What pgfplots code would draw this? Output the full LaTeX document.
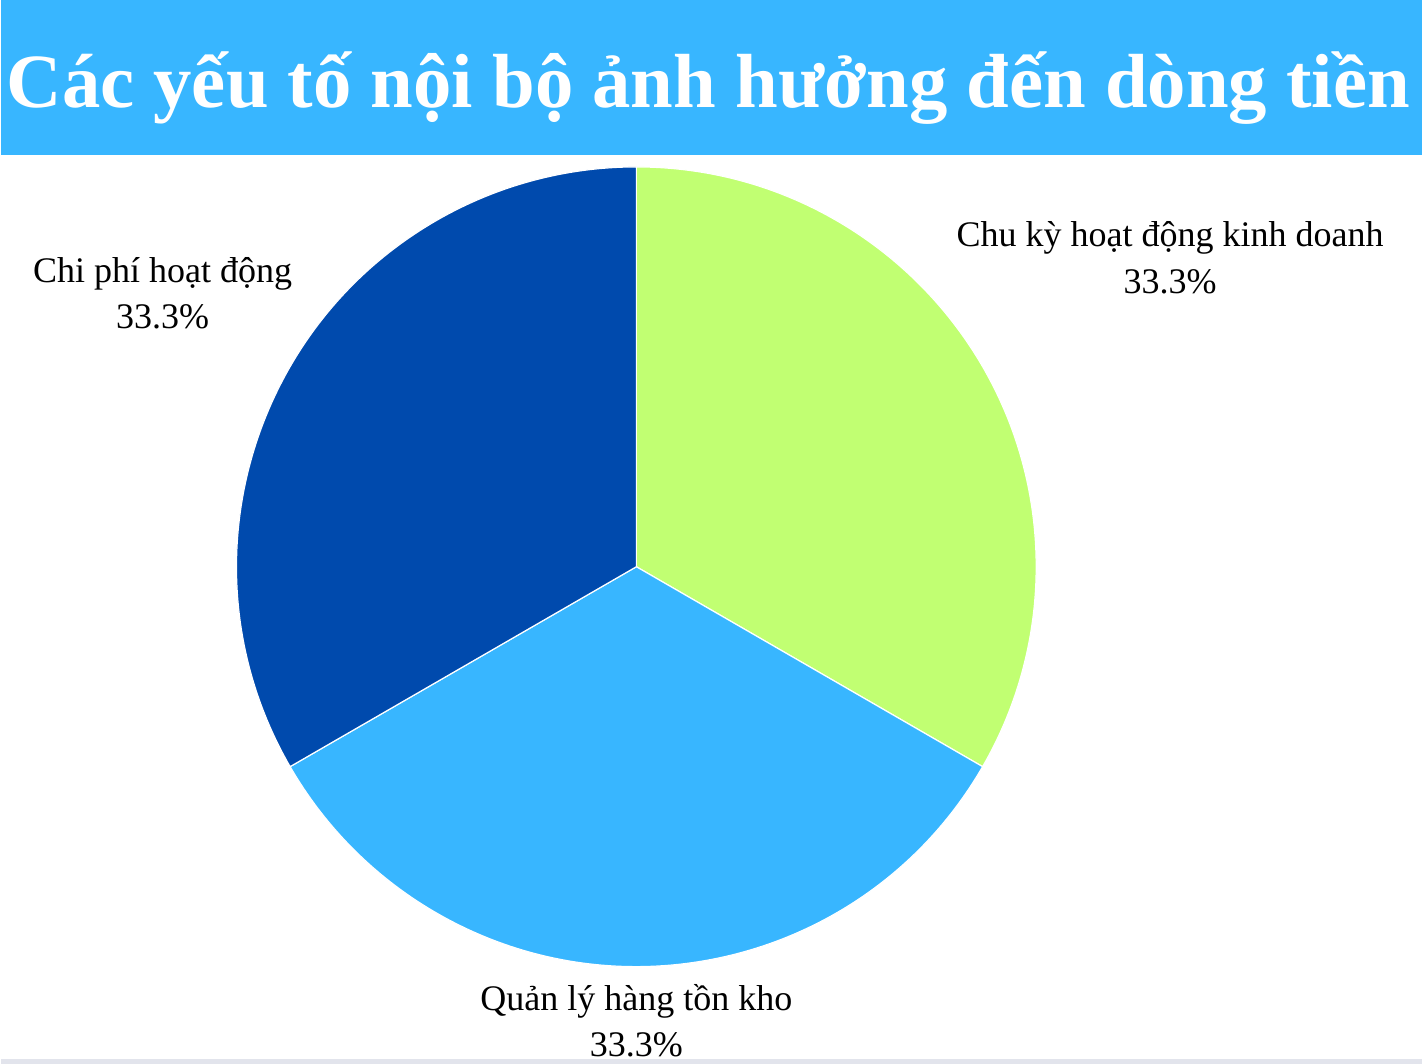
\documentclass[border=0pt]{standalone}
\usepackage{pgfplots}
\pgfplotsset{compat=1.18}
\usepackage{pgfplotstable}
\usepackage{fontspec}
\setmainfont{Liberation Serif}

\definecolor{banner}{HTML}{38B6FF}
\definecolor{sliceA}{HTML}{C1FF72}
\definecolor{sliceB}{HTML}{38B6FF}
\definecolor{sliceC}{HTML}{004AAD}
\definecolor{strip}{HTML}{E2E4EC}

% share of each factor (percent)
\pgfplotstableread[col sep=comma]{
name,value,color
Chu kỳ hoạt động kinh doanh,33.3,sliceA
Quản lý hàng tồn kho,33.3,sliceB
Chi phí hoạt động,33.3,sliceC
}\piedata

% build the slices, clockwise from 12 o'clock
\pgfplotstablegetrowsof{\piedata}%
\pgfmathtruncatemacro\nslices{\pgfplotsretval-1}%
\def\pietotal{0}%
\pgfplotsforeachungrouped \i in {0,...,\nslices}{%
  \pgfplotstablegetelem{\i}{value}\of\piedata
  \pgfmathsetmacro\pietotal{\pietotal+\pgfplotsretval}}%
\def\startangle{90}%
\def\slices{}%
\pgfplotsforeachungrouped \i in {0,...,\nslices}{%
  \pgfplotstablegetelem{\i}{value}\of\piedata
  \pgfmathsetmacro\endangle{\startangle-360*\pgfplotsretval/\pietotal}%
  \pgfplotstablegetelem{\i}{color}\of\piedata
  \edef\slices{\expandafter\unexpanded\expandafter{\slices}%
    \noexpand\filldraw[fill=\pgfplotsretval,draw=white,line width=0.6pt]
    (axis cs:636,497) -- ++(\startangle:200pt)
    arc[start angle=\startangle,end angle=\endangle,radius=200pt] -- cycle;}%
  \let\startangle\endangle}%

\begin{document}
\begin{tikzpicture}
\begin{axis}[
  x=0.5pt, y=0.5pt,
  xmin=0, xmax=1422, ymin=0, ymax=1064,
  hide axis, clip=false,
]
\addplot[draw=none] coordinates {(0,0) (1422,1064)};
\fill[white] (axis cs:0,0) rectangle (axis cs:1422,1064);
\fill[banner] (axis cs:0,909) rectangle (axis cs:1422,1064);
\fill[strip] (axis cs:0,0) rectangle (axis cs:1422,5);
\slices
\node[text=white, anchor=base, font=\bfseries\fontsize{40}{48}\selectfont]
  at (axis cs:708,956) {\resizebox{702pt}{!}{Các yếu tố nội bộ ảnh hưởng đến dòng tiền}};
\tikzset{lbl/.style={anchor=base, font=\fontsize{18}{24}\selectfont}}
\node[lbl] at (axis cs:1170,817) {Chu kỳ hoạt động kinh doanh};
\node[lbl] at (axis cs:1170,770) {33.3\%};
\node[lbl] at (axis cs:162,781) {Chi phí hoạt động};
\node[lbl] at (axis cs:162,735) {33.3\%};
\node[lbl] at (axis cs:636,53) {Quản lý hàng tồn kho};
\node[lbl] at (axis cs:636,7) {33.3\%};
\end{axis}
\end{tikzpicture}
\end{document}
